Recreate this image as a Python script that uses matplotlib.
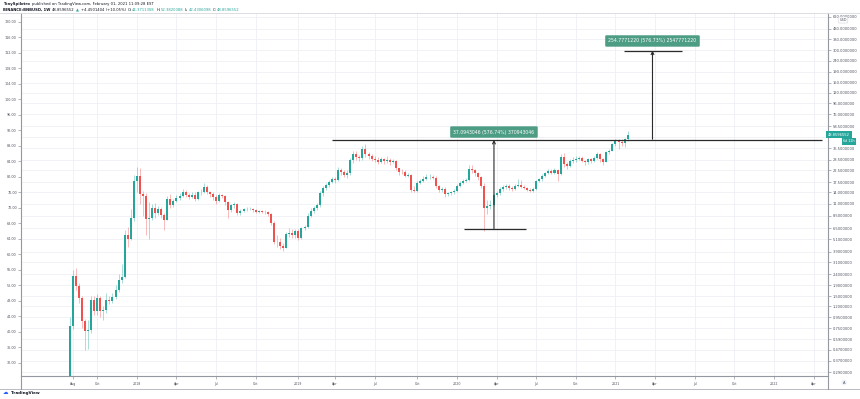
import numpy as np
import pandas as pd
import matplotlib
matplotlib.use('Agg')
import matplotlib.pyplot as plt
import matplotlib.dates as mdates
from matplotlib.lines import Line2D
from matplotlib.ticker import FixedLocator, NullLocator, FixedFormatter

# weekly BNB/USD candles (open = previous close)
first_week = '2017-07-31'
first_open = 0.11
closes = [0.78, 2.30, 1.85, 1.44, 0.87, 0.70, 0.72, 1.38, 1.08, 1.44,
          1.08, 1.10, 1.38, 1.35, 1.47, 1.72, 2.10, 2.27, 5.6, 5.1,
          8.1, 18.0, 20.0, 13.5, 13.1, 7.9, 8.1, 10.0, 8.9, 9.7,
          8.6, 7.8, 12.1, 10.6, 11.7, 12.5, 13.1, 14.2, 13.3, 12.8,
          13.4, 12.1, 14.0, 14.2, 15.6, 14.0, 13.6, 12.6, 11.7, 13.2,
          12.9, 11.3, 9.5, 10.6, 10.9, 8.9, 9.4, 9.7, 9.85, 9.9,
          9.5, 9.2, 9.3, 9.25, 9.1, 8.8, 7.3, 4.85, 4.8, 4.4,
          4.25, 5.67, 5.9, 5.6, 6.1, 5.2, 6.5, 6.7, 8.5, 9.4,
          10.0, 10.6, 13.9, 15.3, 16.4, 17.4, 18.6, 18.4, 22.6, 21.7,
          20.5, 21.5, 28.1, 32.1,
          29.8, 29.5, 35.7, 32.0, 30.5, 29.0, 28.5, 27.3, 28.8, 27.5,
          28.5, 27.0, 27.8, 23.5, 22.0, 21.8, 20.0, 20.3, 14.8, 14.6,
          17.3, 18.0, 18.9, 19.4, 19.6, 19.2, 16.0, 14.8, 15.2, 13.6,
          13.7, 14.0, 14.5, 16.1, 17.3, 18.0, 18.3, 23.3, 22.6, 21.3,
          19.4, 16.2,
          10.0, 10.5, 10.8, 13.3, 13.7, 15.1, 15.6, 16.1, 15.4, 15.0,
          16.0, 16.6, 15.8, 15.4, 14.9, 14.6, 15.0,
          17.9, 18.6, 20.0, 21.4, 22.2, 21.5, 22.5, 21.0, 29.8, 25.8,
          25.0, 27.7, 28.2, 28.8, 29.3, 27.5, 26.8, 28.6, 27.4, 29.5,
          31.9, 29.0, 27.0, 33.3, 34.6, 39.9, 42.8, 41.3, 40.6, 44.37,
          48.86]
highs = [0.95, 2.65, 2.75, 2.00, 1.50, 0.92, 0.90, 1.50, 1.50, 1.55,
         1.50, 1.20, 1.60, 1.50, 1.60, 1.90, 2.40, 3.00, 6.20, 6.60,
         9.80, 20.5, 24.5, 23.5, 14.5, 13.8, 11.5, 11.0, 11.2, 10.5,
         10.2, 9.0, 13.0, 13.5, 12.2, 13.2, 13.8, 15.2, 14.8, 13.8,
         14.0, 14.3, 14.6, 15.0, 17.2, 16.5, 14.6, 14.2, 13.2, 13.8,
         13.6, 13.4, 11.6, 11.0, 11.5, 11.2, 9.8, 10.0, 10.2, 10.2,
         10.1, 9.9, 9.6, 9.6, 9.5, 9.4, 9.0, 7.5, 5.6, 5.2,
         4.7, 6.0, 6.5, 6.3, 6.4, 6.3, 6.7, 7.0, 9.0, 10.0,
         10.5, 11.2, 14.5, 16.0, 17.0, 18.2, 19.5, 19.5, 24.5, 24.0,
         22.5, 22.5, 29.5, 34.5,
         34.0, 31.5, 38.0, 39.6, 33.5, 32.0, 31.0, 30.0, 30.0, 29.5,
         30.5, 29.5, 29.0, 28.2, 24.0, 23.0, 22.5, 21.5, 20.8, 16.0,
         18.0, 18.8, 19.8, 20.8, 21.0, 20.5, 19.8, 16.5, 15.8, 15.8,
         14.3, 14.5, 15.0, 16.8, 18.0, 18.8, 19.0, 25.5, 25.5, 23.2,
         22.0, 20.0,
         17.0, 11.8, 12.0, 13.8, 14.5, 15.8, 16.3, 16.8, 16.8, 16.2,
         16.8, 18.9, 18.2, 16.3, 15.8, 15.3, 15.6,
         18.5, 19.2, 20.8, 22.0, 23.0, 23.0, 23.5, 23.0, 32.0, 33.0,
         27.0, 29.0, 30.0, 30.5, 30.5, 30.5, 28.5, 29.5, 29.5, 30.5,
         33.5, 32.5, 29.5, 34.5, 36.0, 41.0, 44.0, 44.8, 44.0, 45.5,
         52.38]
lows = [0.10, 0.74, 1.70, 1.30, 0.75, 0.47, 0.48, 0.68, 1.00, 1.00,
        0.95, 0.90, 1.05, 1.25, 1.30, 1.40, 1.65, 2.00, 2.20, 4.30,
        5.00, 7.5, 14.0, 11.0, 8.5, 5.6, 5.1, 7.8, 8.0, 8.6,
        8.0, 6.2, 7.7, 10.0, 10.3, 11.3, 12.0, 12.8, 12.6, 12.2,
        12.3, 11.6, 11.8, 13.4, 13.8, 13.5, 12.8, 12.0, 11.0, 11.3,
        12.3, 10.8, 8.0, 9.2, 10.0, 8.6, 8.6, 9.1, 9.3, 9.5,
        9.1, 8.9, 9.0, 9.0, 8.8, 8.4, 7.0, 4.6, 4.3, 4.1,
        4.0, 4.2, 5.4, 5.3, 5.3, 5.0, 5.1, 6.2, 6.5, 8.2,
        9.0, 9.6, 10.2, 13.0, 14.8, 15.8, 17.0, 17.2, 18.0, 20.5,
        19.5, 19.3, 20.5, 26.5,
        28.0, 27.5, 28.5, 30.0, 29.0, 27.5, 27.0, 26.0, 26.5, 26.0,
        26.5, 25.5, 26.5, 22.5, 20.5, 20.8, 19.5, 19.5, 14.3, 14.0,
        14.3, 16.8, 17.5, 18.5, 18.8, 18.7, 15.5, 14.3, 14.2, 12.6,
        13.0, 13.2, 13.5, 14.2, 15.8, 16.9, 17.5, 18.0, 21.5, 20.0,
        18.5, 15.5,
        6.1, 8.8, 9.8, 10.5, 12.6, 13.2, 14.6, 15.0, 14.8, 14.5,
        14.8, 15.8, 15.3, 15.0, 14.5, 14.2, 14.3,
        14.8, 17.4, 18.0, 19.5, 20.8, 20.8, 21.0, 18.0, 20.5, 24.5,
        23.0, 24.5, 26.5, 27.0, 28.0, 26.8, 25.5, 26.0, 26.5, 27.0,
        29.0, 27.0, 25.5, 26.8, 32.0, 34.0, 38.5, 36.0, 38.0, 37.5,
        42.43]

# right (log) price scale and left scale labels
right_ticks = [620, 480, 380, 300, 240, 190, 150, 120, 96, 76, 58.5, 46,
               36.5, 28.5, 22.5, 17.5, 14, 11, 8.5, 6.5, 5.1, 3.9, 3.1,
               2.4, 1.9, 1.5, 1.2, 0.95, 0.75, 0.59, 0.47, 0.37, 0.29]
hidden_tick = 46  # sits under the last price tag
left_ticks = list(range(32, 121, 4))

# first weekly bar of each labelled month
time_ticks = ['2017-08-07', '2017-10-02', '2018-01-01', '2018-04-02', '2018-07-02',
              '2018-10-01', '2019-01-07', '2019-04-01', '2019-07-01', '2019-10-07',
              '2020-01-06', '2020-04-06', '2020-07-06', '2020-10-05', '2021-01-04',
              '2021-04-05', '2021-07-05', '2021-10-04', '2022-01-03', '2022-04-04']
time_labels = ['Aug', 'Oct', '2018', 'Apr', 'Jul', 'Oct', '2019', 'Apr', 'Jul', 'Oct',
               '2020', 'Apr', 'Jul', 'Oct', '2021', 'Apr', 'Jul', 'Oct', '2022', 'Apr']

# drawings (price range tools)
resist_level = 43.526
resist_span = ('2019-03-24', '2022-04-24')
range1 = dict(x='2020-03-31', lo=6.4317, hi=43.526, base=('2020-01-22', '2020-06-12'),
              label='37.0943046 (576.74%) 370943046', label_y=51.6)
range2 = dict(x='2021-03-30', lo=44.176, hi=298.95, top=('2021-01-24', '2021-06-05'),
              label='254.7771220 (576.73%) 2547771220', label_y=368)

last_price = 48.8596552

UP, DOWN = '#26a69a', '#ef5350'
TXT = '#50535e'
BORDER = '#9598a1'

W, H = 860, 399
fig = plt.figure(figsize=(W / 100, H / 100), dpi=100)
fig.patch.set_facecolor('white')
L, R, T, B = 21, 828, 13, 376
ax = fig.add_axes([L / W, 1 - B / H, (R - L) / W, (B - T) / H])

# left scale (twinx moves the main ticks left, so set the sides afterwards)
axl = ax.twinx()
axl.set_ylim(28.64, 122.32)
axl.yaxis.tick_left()
axl.set_yticks(left_ticks)
axl.set_yticklabels(['%.2f' % v for v in left_ticks])
axl.tick_params(axis='y', direction='out', length=2, width=0.5, color=BORDER,
                labelcolor=TXT, labelsize=2.4, pad=1)
for s in axl.spines.values():
    s.set_visible(False)

weeks = pd.date_range(first_week, periods=len(closes), freq='7D')
x = mdates.date2num(weeks)
o = np.array([first_open] + closes[:-1])
c = np.array(closes)
hi = np.array(highs)
lo = np.array(lows)
up = c >= o
cols = np.where(up, UP, DOWN)

ax.set_yscale('log')
ax.vlines(x, lo, hi, colors=cols, lw=0.6, alpha=0.45, zorder=2)
ax.bar(x, np.abs(c - o), bottom=np.minimum(o, c), width=4.6, color=cols,
       lw=0, zorder=3)

ax.set_ylim(0.267, 673)
ax.set_xlim(mdates.datestr2num('2017-04-10'), mdates.datestr2num('2022-05-07'))

ax.yaxis.tick_right()
ax.yaxis.set_major_locator(FixedLocator(right_ticks))
ax.yaxis.set_major_formatter(FixedFormatter(
    ['' if v == hidden_tick else '%.7f' % v for v in right_ticks]))
ax.yaxis.set_minor_locator(NullLocator())
ax.tick_params(axis='y', which='major', direction='out', length=2, width=0.5,
               color=BORDER, labelcolor=TXT, labelsize=2.6, pad=1.5)

tick_nums = [mdates.datestr2num(d) for d in time_ticks]
ax.xaxis.set_major_locator(FixedLocator(tick_nums))
ax.xaxis.set_major_formatter(FixedFormatter(time_labels))
ax.xaxis.set_minor_locator(NullLocator())
ax.tick_params(axis='x', direction='out', length=2, width=0.5, color=BORDER,
               labelcolor=TXT, labelsize=2.3, pad=2)

ax.grid(True, color='#eef0f4', lw=0.6, zorder=0)
ax.set_axisbelow(True)
for s in ['left', 'right', 'bottom']:
    ax.spines[s].set_color(BORDER)
    ax.spines[s].set_linewidth(0.8)
ax.spines['top'].set_color('#d6d8de')
ax.spines['top'].set_linewidth(0.6)

# drawings
LINE = '#2b2b2b'
ax.hlines(resist_level, *mdates.datestr2num(list(resist_span)), color=LINE, lw=0.9, zorder=4)

for rg in (range1, range2):
    xm = mdates.datestr2num(rg['x'])
    ax.annotate('', xy=(xm, rg['hi']), xytext=(xm, rg['lo']),
                arrowprops=dict(arrowstyle='->', lw=0.8, color=LINE,
                                shrinkA=0, shrinkB=0, mutation_scale=5), zorder=4)
    ax.text(xm, rg['label_y'], rg['label'], ha='center', va='center',
            color='white', fontsize=3.3, zorder=6,
            bbox=dict(boxstyle='round,pad=0.7,rounding_size=0.25',
                      fc='#4d9c84', ec='none'))
ax.hlines(range1['lo'], *mdates.datestr2num(list(range1['base'])), color=LINE, lw=0.9, zorder=4)
ax.hlines(range2['hi'], *mdates.datestr2num(list(range2['top'])), color=LINE, lw=0.9, zorder=4)

# last price tag
ytr = ax.get_yaxis_transform()
ax.text(1.0, last_price, '%.7f' % last_price, transform=ytr, ha='left', va='center',
        color='white', fontsize=2.6, clip_on=False, zorder=10,
        bbox=dict(boxstyle='square,pad=0.45', fc=UP, ec='none'))
ax.text((855 - L) / (R - L), last_price * 0.865, '6d 12h', transform=ytr, ha='right',
        va='center', color='white', fontsize=2.4, clip_on=False, zorder=10,
        bbox=dict(boxstyle='square,pad=0.4', fc=UP, ec='none'))
fig.text(843 / W, 1 - 20 / H, 'USD', ha='center', va='center', fontsize=2.5, color=TXT,
         bbox=dict(boxstyle='round,pad=0.3,rounding_size=0.3', fc='white', ec='#d0d3da', lw=0.4))


def fline(x0, y0, x1, y1, col=BORDER, lw=0.8):
    fig.add_artist(Line2D([x0 / W, x1 / W], [1 - y0 / H, 1 - y1 / H],
                          transform=fig.transFigure, color=col, lw=lw))


fline(0, 389, W, 389, '#b8bbc3', 0.7)
fline(R, B, R, 389)
fline(L, B, L, 389)
fline(0, T, L, T, '#d6d8de', 0.6)
fline(R, T, W, T, '#d6d8de', 0.6)
fig.text(844 / W, 1 - 382.5 / H, 'A', ha='center', va='center', fontsize=2.6, color=TXT,
         bbox=dict(boxstyle='circle,pad=0.25', fc='#f0f3fa', ec='none'))

# header
DARK = '#131722'
t1 = fig.text(3 / W, 1 - 4 / H, 'TonySpilotro', fontsize=2.7, color=DARK,
              fontweight='bold', va='center')
ax.annotate('published on TradingView.com, February 01, 2021 11:09:28 EST',
            xy=(1, 0.5), xycoords=t1, xytext=(1.2, 0), textcoords='offset points',
            va='center', fontsize=2.7, color=DARK, annotation_clip=False)

parts = [('BINANCE:BNBUSD, 1W', DARK, 'bold'), ('48.8596552', DARK, 'normal'),
         ('\u25b2', UP, 'normal'), ('+4.4501404 (+10.05%)', DARK, 'normal'),
         ('O:', DARK, 'normal'), ('44.3711308', UP, 'normal'),
         ('H:', DARK, 'normal'), ('52.3820088', UP, 'normal'),
         ('L:', DARK, 'normal'), ('42.4306098', UP, 'normal'),
         ('C:', DARK, 'normal'), ('48.8596552', UP, 'normal')]
prev = fig.text(3 / W, 1 - 10 / H, parts[0][0], fontsize=2.7, color=parts[0][1],
                fontweight=parts[0][2], va='center')
for i, (s, col, fw) in enumerate(parts[1:], 1):
    gap = 0.2 if parts[i - 1][0].endswith(':') else 1.2
    prev = ax.annotate(s, xy=(1, 0.5), xycoords=prev, xytext=(gap, 0),
                       textcoords='offset points', va='center', fontsize=2.7,
                       color=col, fontweight=fw, annotation_clip=False)

# footer logo
fig.text(3 / W, 1 - 393 / H, '\u2601', fontsize=4, color='#2962ff', va='center')
fig.text(11 / W, 1 - 393 / H, 'TradingView', fontsize=3.0, color=DARK, va='center',
         fontweight='bold')

fig.savefig('out.png', dpi=100, facecolor='white')
